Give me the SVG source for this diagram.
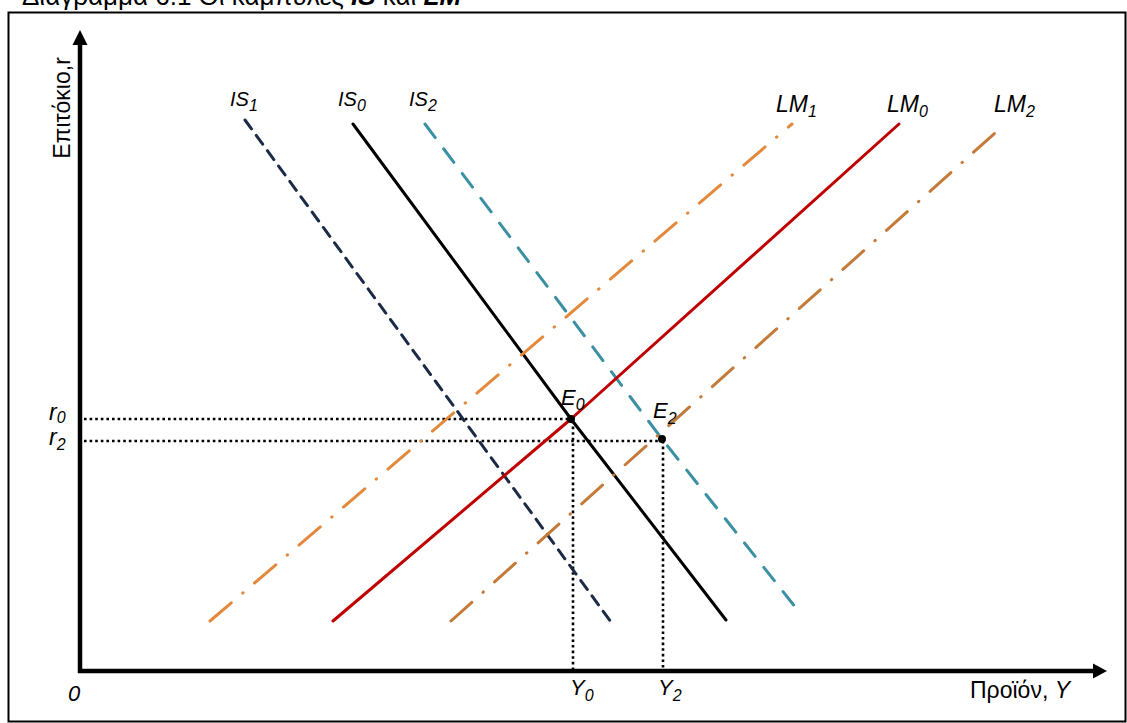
<svg xmlns="http://www.w3.org/2000/svg" width="1127" height="723" viewBox="0 0 1127 723">
<defs>
<style>
.lbl{font-family:"Liberation Sans","Noto Sans",Arial,sans-serif;font-style:italic;fill:#000}
.is{font-size:20px}
.lm{font-size:23px}
.pt{font-size:22px}
.sub{font-size:16px}
.ax{font-family:"Liberation Sans","Noto Sans",Arial,sans-serif;font-size:23px;fill:#000}
.dot{stroke:#000;stroke-width:2.6;stroke-dasharray:2.6 3;fill:none}
.crv{fill:none;stroke-width:3;stroke-linecap:round;stroke-linejoin:round}
</style>
</defs>
<rect width="1127" height="723" fill="#fff"/>
<text x="22" y="4.5" font-family="Liberation Sans,Arial,sans-serif" font-size="26" fill="#000">Διάγραμμα 6.1 Οι καμπύλες <tspan font-weight="bold" font-style="italic">IS</tspan> και <tspan font-weight="bold" font-style="italic">LM</tspan></text>
<rect x="8.5" y="12.5" width="1117" height="709" fill="none" stroke="#000" stroke-width="2"/>

<g id="connectors">
<line x1="80" y1="673" x2="80" y2="44" stroke="#000" stroke-width="4.5"/>
<polygon points="80,30 72.5,45 87.5,45" fill="#000"/>
<line x1="78" y1="671" x2="1094" y2="671" stroke="#000" stroke-width="4.5"/>
<polygon points="1107,671 1093,663.5 1093,678.5" fill="#000"/>
<line class="dot" x1="84" y1="419" x2="571" y2="419"/>
<line class="dot" x1="84" y1="441" x2="662" y2="441"/>
<line class="dot" x1="573" y1="421" x2="573" y2="669"/>
<line class="dot" x1="663" y1="441" x2="663" y2="669"/>
</g>

<g id="IS1">
<polyline class="crv" points="245,120 611,622" stroke="#1b2a45" stroke-dasharray="11 8"/>
<text class="lbl is" x="230" y="106">IS<tspan class="sub" dy="5">1</tspan></text>
</g>
<g id="IS0">
<polyline class="crv" points="353,124 571,419 726,620" stroke="#000"/>
<text class="lbl is" x="338" y="106">IS<tspan class="sub" dy="5">0</tspan></text>
</g>
<g id="IS2">
<polyline class="crv" points="425,124 662,439 800,613" stroke="#3a8fa3" stroke-dasharray="17 14"/>
<text class="lbl is" x="409" y="106">IS<tspan class="sub" dy="5">2</tspan></text>
</g>
<g id="LM1">
<polyline class="crv" points="210,621 792,124" stroke="#e3893c" stroke-dasharray="28 15 0.5 15"/>
<text class="lbl lm" x="776" y="112">LM<tspan class="sub" dy="5">1</tspan></text>
</g>
<g id="LM0">
<polyline class="crv" points="333,621 571,419 899,124" stroke="#c00000"/>
<text class="lbl lm" x="887" y="112">LM<tspan class="sub" dy="5">0</tspan></text>
</g>
<g id="LM2">
<polyline class="crv" points="451,621 995,133" stroke="#c47a38" stroke-dasharray="28 15 0.5 15"/>
<text class="lbl lm" x="994" y="112">LM<tspan class="sub" dy="5">2</tspan></text>
</g>

<g id="E0">
<circle cx="571" cy="419" r="4" fill="#000"/>
<text class="lbl pt" x="561" y="405">E<tspan class="sub" dy="5">0</tspan></text>
</g>
<g id="E2">
<circle cx="662" cy="439" r="4" fill="#000"/>
<text class="lbl pt" x="653" y="418">E<tspan class="sub" dy="6">2</tspan></text>
</g>

<g id="labels">
<text class="ax" transform="translate(70,108) rotate(-90)" text-anchor="middle">Επιτόκιο,r</text>
<text class="lbl" font-size="23" x="49" y="420">r<tspan class="sub" font-size="15" dy="3">0</tspan></text>
<text class="lbl" font-size="23" x="49" y="445">r<tspan class="sub" font-size="15" dy="5">2</tspan></text>
<text class="lbl pt" x="68" y="701">0</text>
<text class="lbl pt" x="570" y="695">Y<tspan class="sub" dy="6">0</tspan></text>
<text class="lbl pt" x="658" y="695">Y<tspan class="sub" dy="6">2</tspan></text>
<text class="ax" x="970" y="698">Προϊόν, <tspan font-style="italic">Y</tspan></text>
</g>
</svg>
